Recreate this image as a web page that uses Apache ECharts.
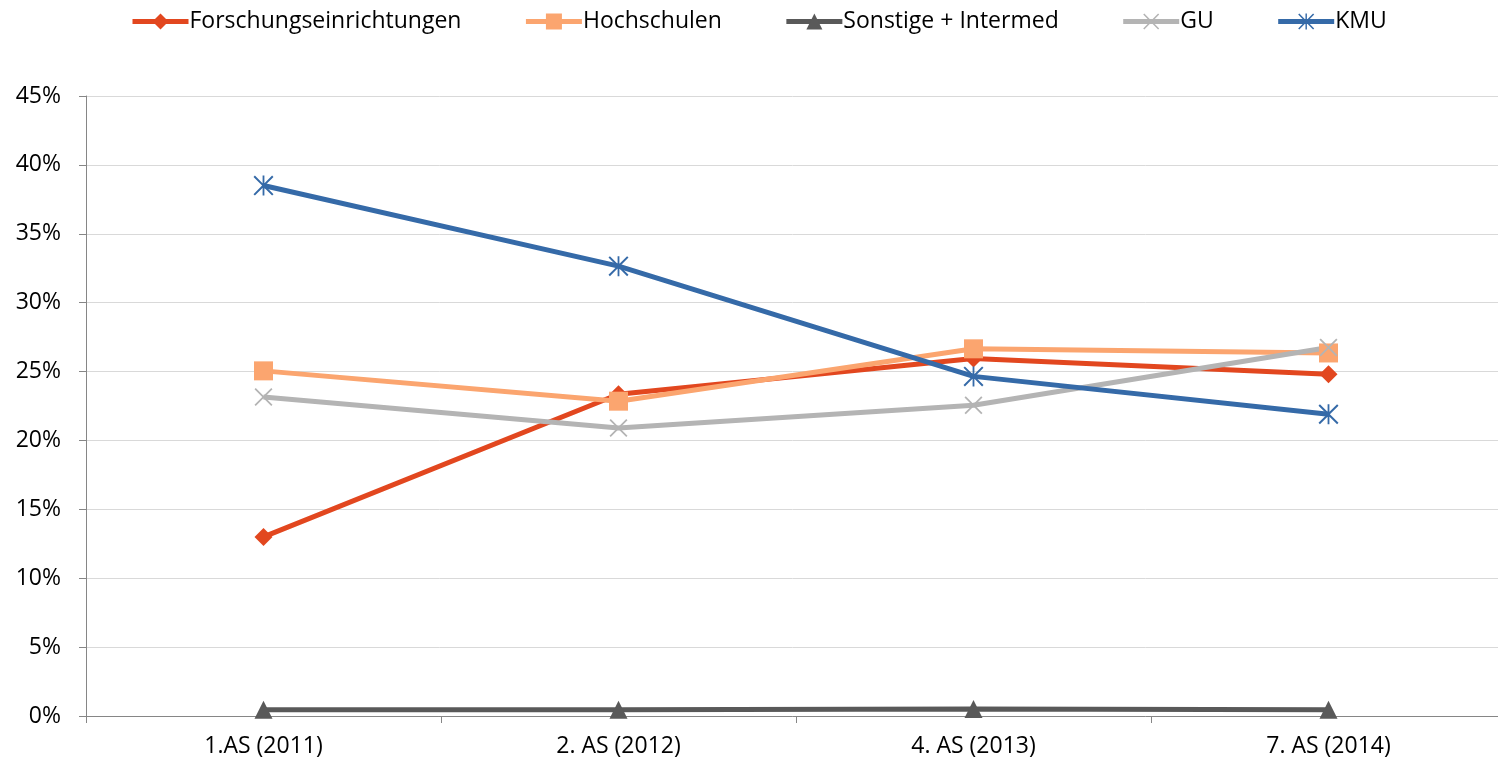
<!DOCTYPE html>
<html>
<head>
<meta charset="utf-8">
<script src="https://cdn.jsdelivr.net/npm/echarts@6/dist/echarts.min.js"></script>
<style>
  html, body { margin: 0; padding: 0; background: #fff; }
  #chart { width: 1498px; height: 765px; }
</style>
</head>
<body>
<div id="chart"></div>
<script>
const categories = ['1.AS (2011)', '2. AS (2012)', '4. AS (2013)', '7. AS (2014)']
const forschung = [13.0, 23.35, 25.95, 24.8]
const hochschulen = [25.05, 22.85, 26.65, 26.35]
const sonstige = [0.45, 0.45, 0.5, 0.45]
const gu = [23.15, 20.9, 22.55, 26.75]
const kmu = [38.5, 32.65, 24.65, 21.9]

const crossPath = 'path://M0,1.4 L1.4,0 L10,8.6 L18.6,0 L20,1.4 L11.4,10 L20,18.6 L18.6,20 L10,11.4 L1.4,20 L0,18.6 L8.6,10 Z'
const starPath = crossPath + ' M9.1,0 L10.9,0 L10.9,20 L9.1,20 Z'

const font = 'Open Sans'

function line(name, data, color, symbol, size) {
  return {
    name: name,
    type: 'line',
    data: data,
    symbol: symbol,
    symbolSize: size,
    lineStyle: { color: color, width: 5 },
    itemStyle: { color: color },
    emphasis: { disabled: true }
  }
}

const chart = echarts.init(document.getElementById('chart'))
chart.setOption({
  animation: false,
  textStyle: { fontFamily: font },
  legend: {
    top: 5,
    left: 125,
    itemWidth: 56,
    itemHeight: 20,
    itemGap: 62,
    lineStyle: { width: 5 },
    textStyle: { fontSize: 23, color: '#000', fontFamily: font, padding: [0, 0, 0, -4] },
    data: ['Forschungseinrichtungen', 'Hochschulen', 'Sonstige + Intermed', 'GU', 'KMU']
  },
  grid: { left: 86, top: 96, width: 1420, bottom: 49, outerBoundsMode: 'none' },
  xAxis: {
    type: 'category',
    data: categories,
    boundaryGap: true,
    axisLine: { lineStyle: { color: '#868686', width: 1 } },
    axisTick: { show: true, length: 7, lineStyle: { color: '#868686' } },
    axisLabel: { fontSize: 23, color: '#000', margin: 19, fontFamily: font }
  },
  yAxis: {
    type: 'value',
    min: 0,
    max: 45,
    interval: 5,
    axisLine: { show: true, lineStyle: { color: '#868686', width: 1 } },
    axisTick: { show: true, length: 7, lineStyle: { color: '#868686' } },
    axisLabel: { fontSize: 23, color: '#000', margin: 25, formatter: '{value}%', fontFamily: font },
    splitLine: { lineStyle: { color: '#d9d9d9', width: 1 } }
  },
  series: [
    line('Forschungseinrichtungen', forschung, '#e2471f', 'diamond', 18),
    line('Hochschulen', hochschulen, '#fba56f', 'rect', 19),
    line('Sonstige + Intermed', sonstige, '#595959', 'triangle', 18),
    line('GU', gu, '#b4b4b4', crossPath, 18),
    line('KMU', kmu, '#356aa8', starPath, 20)
  ]
})
</script>
</body>
</html>
